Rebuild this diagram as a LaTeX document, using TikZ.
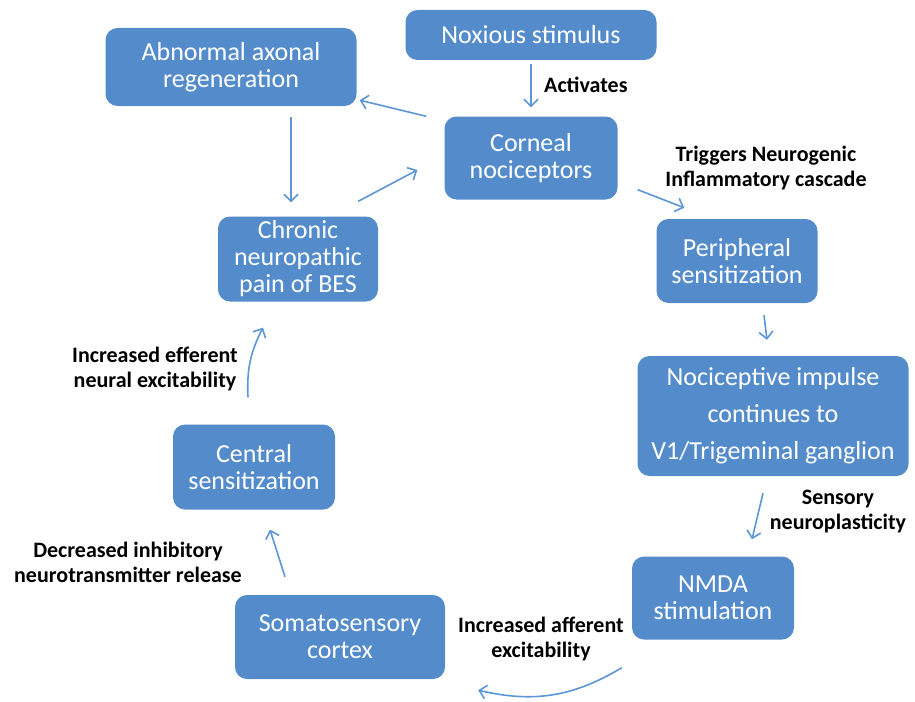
\documentclass[tikz,border=0pt]{standalone}
\usepackage{fontspec}
\setmainfont{Carlito}
\usetikzlibrary{arrows.meta}

\definecolor{boxblue}{RGB}{84,140,203}
\definecolor{arrblue}{RGB}{92,150,214}

\begin{document}
\begin{tikzpicture}[x=1pt,y=-1pt,
    box/.style={fill=boxblue,rounded corners=12pt,text=white,align=center,
      inner sep=2pt,font=\fontsize{26}{27}\selectfont},
    lbl/.style={align=center,inner sep=0pt,font=\fontsize{22}{25}\selectfont\bfseries},
    arr/.style={->,>={Straight Barb[length=7pt,width=14pt]},arrblue,line width=1.6pt}]
  \useasboundingbox (0,0) rectangle (915,701);

  % boxes round the cycle
  \node[box,minimum width=251pt,minimum height=50pt] (noxious) at (531,35) {Noxious stimulus};
  \node[box,minimum width=251pt,minimum height=78pt] (abnormal) at (231,67)
    {Abnormal axonal\\regeneration};
  \node[box,minimum width=173pt,minimum height=83pt] (corneal) at (531,158)
    {Corneal\\nociceptors};
  \node[box,minimum width=161pt,minimum height=84pt] (peripheral) at (737,261)
    {Peripheral\\sensitization};
  \node[box,minimum width=160pt,minimum height=85pt] (chronic) at (298,259)
    {Chronic\\neuropathic\\pain of BES};
  \node[box,minimum width=271pt,minimum height=120pt,
    font=\fontsize{26}{37}\selectfont] (impulse) at (773,416)
    {Nociceptive impulse\\continues to\\V1/Trigeminal ganglion};
  \node[box,minimum width=162pt,minimum height=85pt] (central) at (254,467)
    {Central\\sensitization};
  \node[box,minimum width=162pt,minimum height=83pt] (nmda) at (713,598)
    {NMDA\\stimulation};
  \node[box,minimum width=210pt,minimum height=84pt] (somato) at (340,637)
    {Somatosensory\\cortex};

  % labels on the arrows
  \node[lbl,anchor=west] (activates) at (544,85) {Activates};
  \node[lbl] (triggers) at (766,168) {Triggers Neurogenic\\Inflammatory cascade};
  \node[lbl] (plasticity) at (838,512) {Sensory\\neuroplasticity};
  \node[lbl] (afferent) at (541,639) {Increased afferent\\excitability};
  \node[lbl] (inhibitory) at (128,562) {Decreased inhibitory\\neurotransmitter release};
  \node[lbl] (efferent) at (155,369) {Increased efferent\\neural excitability};

  % arrows
  \draw[arr,shorten <=4pt,shorten >=9pt] (noxious) -- (corneal);
  \draw[arr] ([shift={(-18,0)}]corneal.north west) -- ([shift={(3,-6)}]abnormal.south east);
  \draw[arr] ([shift={(60,11)}]abnormal.south) -- ([shift={(-7,-14)}]chronic.north);
  \draw[arr] ([shift={(-20,-15)}]chronic.north east) -- ([shift={(-27,12)}]corneal.west);
  \draw[arr] ([shift={(20,-10)}]corneal.south east) -- ([shift={(28,-11)}]peripheral.north west);
  \draw[arr] ([shift={(27,12)}]peripheral.south) -- ([shift={(-6,-16)}]impulse.north);
  \draw[arr] ([shift={(-10,17)}]impulse.south) -- ([shift={(39,-17)}]nmda.north);
  \draw[arr] ([shift={(-10,28)}]nmda.south west) to[bend left=22]
    ([shift={(33,11)}]somato.south east);
  \draw[arr] ([shift={(-55,-18)}]somato.north) -- ([shift={(16,20)}]central.south);
  \draw[arr] ([shift={(-6,-27)}]central.north) to[bend left=15]
    ([shift={(-35,26)}]chronic.south);
\end{tikzpicture}
\end{document}
